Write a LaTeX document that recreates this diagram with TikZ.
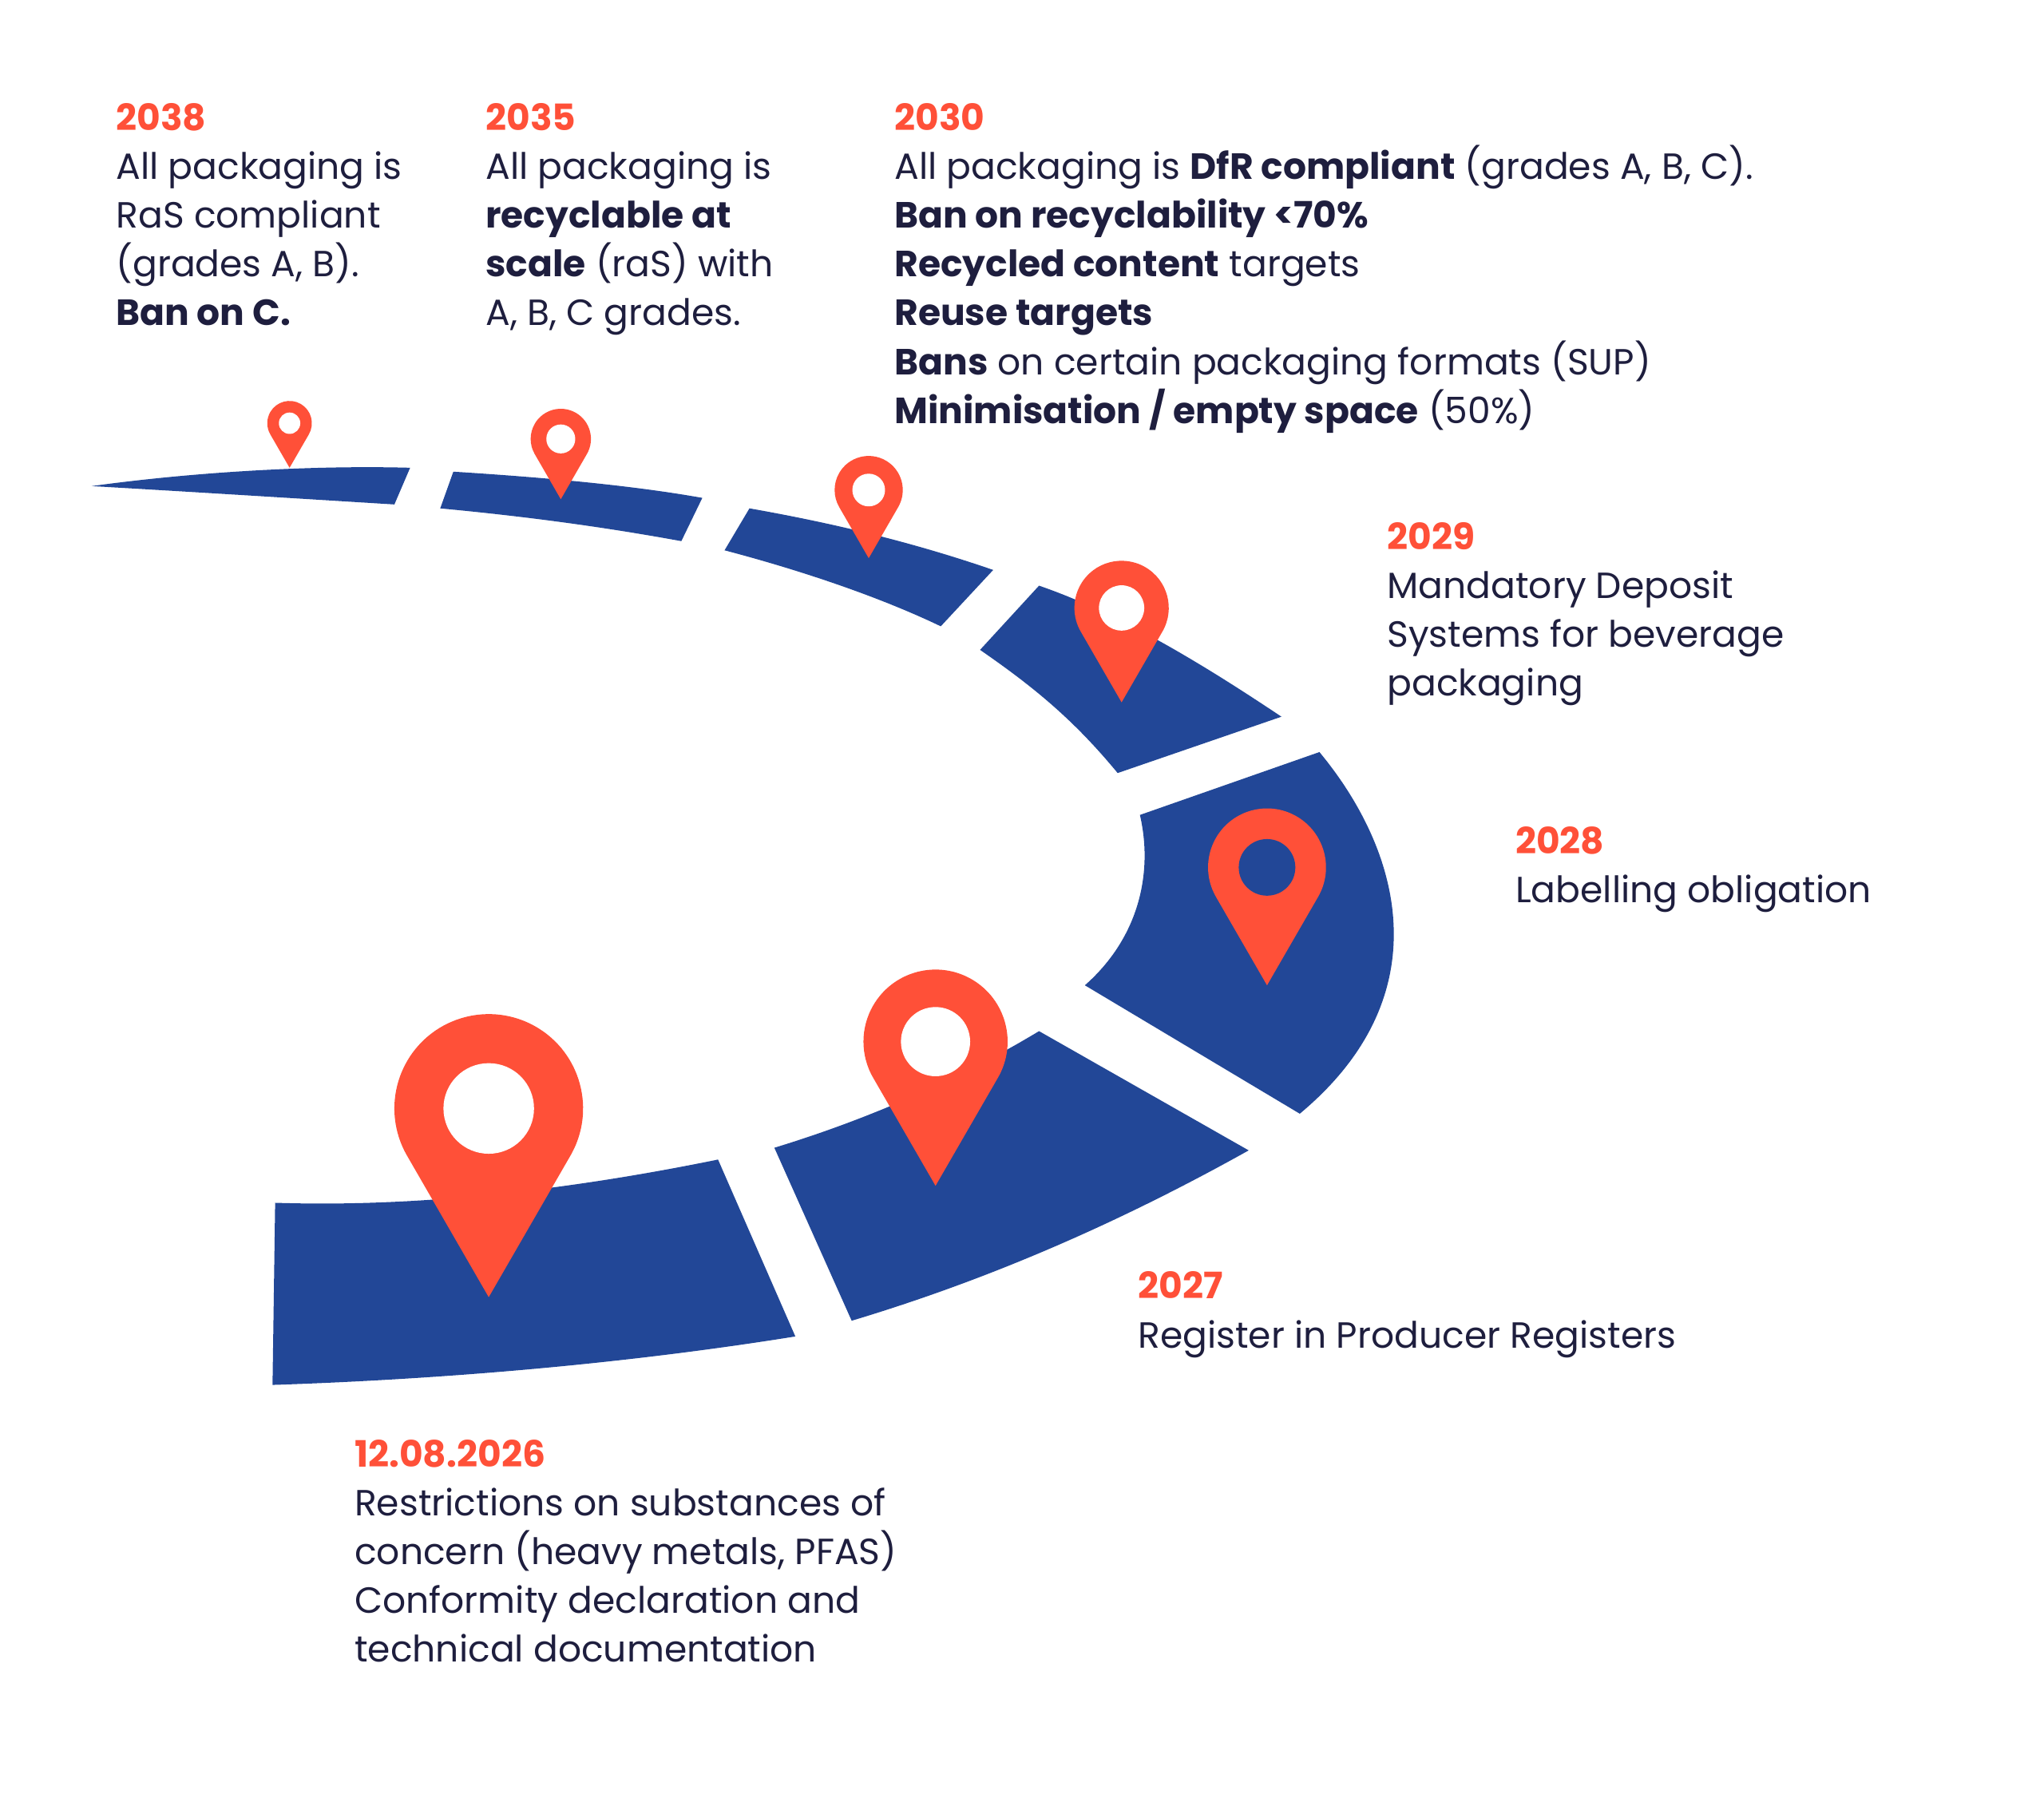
\documentclass[tikz,border=0pt]{standalone}
\usepackage{fontspec}
\setmainfont{Poppins}
\usetikzlibrary{positioning}
\definecolor{road}{RGB}{34,71,151}
\definecolor{pinred}{RGB}{255,80,56}
\definecolor{ink}{RGB}{30,30,62}
\newcommand{\pin}[4]{%
  \fill[pinred] (#1,#2) ++(-30:#3) arc[start angle=-30,end angle=210,radius=#3] -- (#1,#2-2*#3) -- cycle;
  \fill[#4] (#1,#2) circle[radius=0.48*#3];}
\begin{document}
\begin{tikzpicture}[x=0.01cm,y=0.01cm,
  label/.style={anchor=north west,align=left,inner sep=0pt,text=ink,font=\fontsize{7.9}{10.6}\selectfont}]
\useasboundingbox[fill=white] (0,0) rectangle (1560,-1378);
% road
\fill[road] (210,-918) .. controls (330,-922) and (450,-905) .. (548,-885) -- (607,-1020) .. controls (470,-1042) and (330,-1053) .. (208,-1057) -- cycle;
\fill[road] (591,-876) .. controls (660,-855) and (730,-825) .. (793,-787) -- (953,-878) .. controls (860,-930) and (760,-975) .. (650,-1008) -- cycle;
\fill[road] (870,-622) -- (1007,-574) .. controls (1070,-650) and (1100,-760) .. (992,-850) -- (828,-752) .. controls (870,-715) and (880,-665) .. (870,-622) -- cycle;
\fill[road] (748,-496) -- (793,-447) .. controls (860,-470) and (930,-515) .. (978,-547) -- (853,-590) .. controls (820,-550) and (790,-525) .. (748,-496) -- cycle;
\fill[road] (553,-420) -- (572,-388) .. controls (640,-400) and (700,-415) .. (758,-435) -- (718,-478) .. controls (670,-455) and (610,-435) .. (553,-420) -- cycle;
\fill[road] (336,-388) -- (346,-360) .. controls (410,-364) and (480,-370) .. (536,-380) -- (520,-413) .. controls (460,-402) and (400,-394) .. (336,-388) -- cycle;
\fill[road] (70,-371) .. controls (150,-360) and (240,-355) .. (313,-357) -- (301,-385) .. controls (220,-380) and (140,-375) .. (70,-371) -- cycle;
% pins
\pin{373}{-846}{72}{white}
\pin{714}{-795}{55}{white}
\pin{967}{-662}{45}{road}
\pin{856}{-464}{36}{white}
\pin{663}{-374}{26}{white}
\pin{428}{-335}{23}{white}
\pin{221}{-323}{17}{white}
% texts
\node[label] (t2038) at (88,-78) {{\color{pinred}\bfseries 2038}\\All packaging is\\RaS compliant\\(grades A, B).\\\textbf{Ban on C.}};
\node[label] (t2035) at (370,-78) {{\color{pinred}\bfseries 2035}\\All packaging is\\\textbf{recyclable at}\\\textbf{scale} (raS) with\\A, B, C grades.};
\node[label] (t2030) at (682,-78) {{\color{pinred}\bfseries 2030}\\All packaging is \textbf{DfR compliant} (grades A, B, C).\\\textbf{Ban on recyclability <70\%}\\\textbf{Recycled content} targets\\\textbf{Reuse targets}\\\textbf{Bans} on certain packaging formats (SUP)\\\textbf{Minimisation / empty space} (50\%)};
\node[label] (t2029) at (1058,-398) {{\color{pinred}\bfseries 2029}\\Mandatory Deposit\\Systems for beverage\\packaging};
\node[label] (t2028) at (1156,-630) {{\color{pinred}\bfseries 2028}\\Labelling obligation};
\node[label] (t2027) at (868,-970) {{\color{pinred}\bfseries 2027}\\Register in Producer Registers};
\node[label] (t2026) at (270,-1098) {{\color{pinred}\bfseries 12.08.2026}\\Restrictions on substances of\\concern (heavy metals, PFAS)\\Conformity declaration and\\technical documentation};
\end{tikzpicture}
\end{document}
